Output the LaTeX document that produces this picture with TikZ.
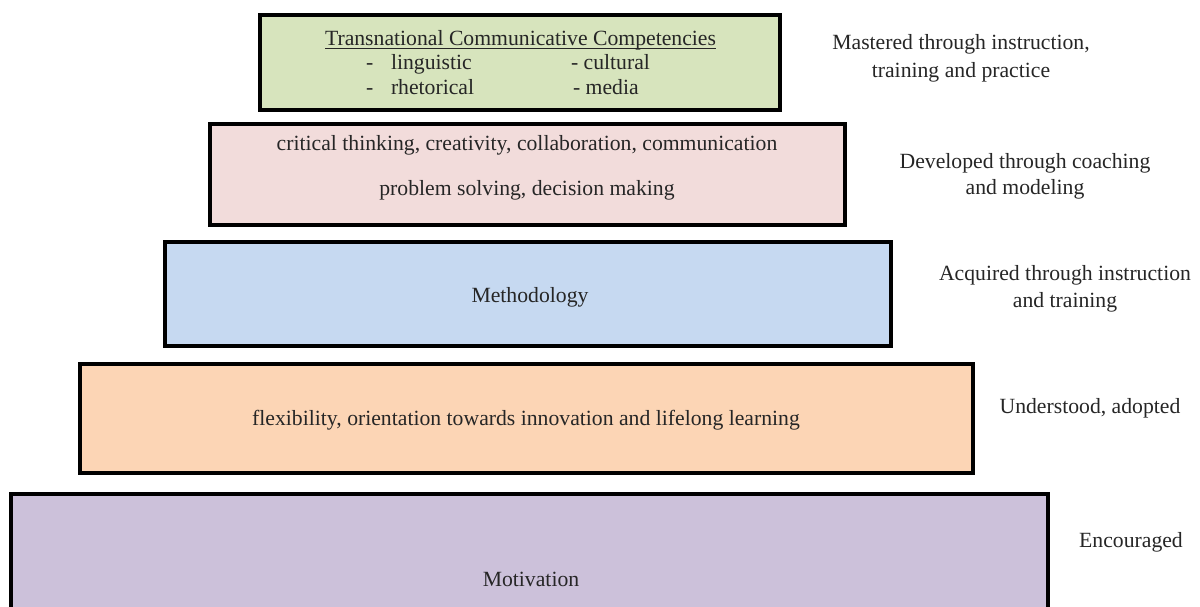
\documentclass[tikz,border=0pt]{standalone}
\usepackage{fontspec}
\setmainfont{Liberation Serif}
\definecolor{cgreen}{HTML}{D7E4BD}
\definecolor{cpink}{HTML}{F2DCDB}
\definecolor{cblue}{HTML}{C6D9F1}
\definecolor{corange}{HTML}{FCD5B5}
\definecolor{cpurple}{HTML}{CCC1DA}
\begin{document}
\begin{tikzpicture}[x=1pt,y=-1pt,
  tier/.style={draw=black, line width=3.6pt, inner sep=0pt, outer sep=0pt},
  txt/.style={inner sep=0pt, outer sep=0pt, font=\fontsize{21.7}{26}\selectfont, anchor=base, text=black!85},
  txtl/.style={txt, anchor=base west}]
\useasboundingbox (0,0) rectangle (1200,607);
% tiers
\node[tier, fill=cgreen,  minimum width=520pt,  minimum height=95pt]  (green)  at (520,62.5) {};
\node[tier, fill=cpink,   minimum width=635pt,  minimum height=101pt] (pink)   at (527.5,174.5) {};
\node[tier, fill=cblue,   minimum width=726pt,  minimum height=104pt] (blue)   at (528,294) {};
\node[tier, fill=corange, minimum width=893pt,  minimum height=109pt] (orange) at (526.5,418.5) {};
\node[tier, fill=cpurple, minimum width=1037pt, minimum height=160pt] (purple) at (529.5,574) {};
% green content
\node[txt] (title) at (520.5,46) {Transnational Communicative Competencies};
\draw[line width=1.2pt, black!85] ([yshift=-2.5pt]title.base west) -- ([yshift=-2.5pt]title.base east);
\node[txtl] (d1) at (366,70) {-};
\node[txtl] (ling) at (391,70) {linguistic};
\node[txtl] (cult) at (571,70) {- cultural};
\node[txtl] (d2) at (366,95) {-};
\node[txtl] (rhet) at (391,95) {rhetorical};
\node[txtl] (media) at (573,95) {- media};
% other tier texts
\node[txt] (p1) at (527,150) {critical thinking, creativity, collaboration, communication};
\node[txt] (p2) at (527,196) {problem solving, decision making};
\node[txt] (meth) at (530,302) {Methodology};
\node[txt] (flex) at (526,425) {flexibility, orientation towards innovation and lifelong learning};
\node[txt] (moti) at (531,586) {Motivation};
% right labels
\node[txt] (r1a) at (961,50) {Mastered through instruction,};
\node[txt] (r1b) at (961,78) {training and practice};
\node[txt] (r2a) at (1025,169) {Developed through coaching};
\node[txt] (r2b) at (1025,194) {and modeling};
\node[txt] (r3a) at (1065,280) {Acquired through instruction};
\node[txt] (r3b) at (1065,307) {and training};
\node[txt] (r4) at (1090,413) {Understood, adopted};
\node[txt] (r5) at (1131,547) {Encouraged};
\end{tikzpicture}
\end{document}
